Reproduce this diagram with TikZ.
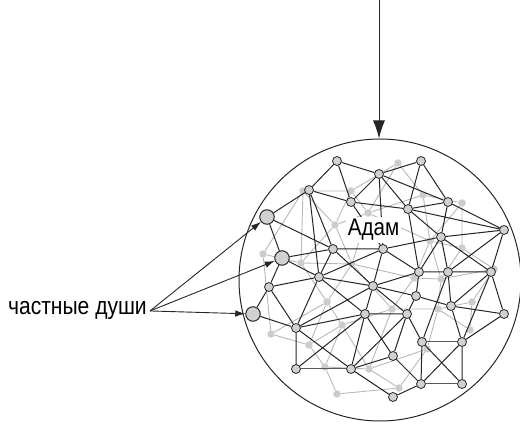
\documentclass[tikz,border=0pt]{standalone}
\usepackage{fontspec}
\setmainfont{Liberation Sans}[FakeStretch=0.86]
\usetikzlibrary{arrows.meta,positioning}
\pgfdeclarelayer{ghost}
\pgfdeclarelayer{mesh}
\pgfsetlayers{ghost,mesh,main}

\begin{document}
\begin{tikzpicture}[
x=1pt, y=-1pt,
knot/.style={circle, draw=black!85, fill=black!18, line width=0.8pt, minimum size=9pt, inner sep=0pt},
soul/.style={knot, line width=1pt, minimum size=14.5pt},
ghost/.style={circle, fill=black!20, minimum size=7.5pt, inner sep=0pt},
link/.style={draw=black!85, line width=1pt},
faint/.style={draw=black!28, line width=0.9pt},
pointer/.style={draw=black!85, line width=0.9pt, -{Latex[length=10pt,width=6.5pt]}},
]
\useasboundingbox (0,0) rectangle (520,427);
%Nodes
\node[knot](n1) at (337,161){};
\node[knot](n2) at (421,161){};
\node[knot](n3) at (379,174){};
\node[knot](n4) at (309,190){};
\node[knot](n5) at (351,202){};
\node[knot](n6) at (408,209){};
\node[knot](n7) at (448,202){};
\node[soul](s1) at (267,217){};
\node[knot](n9) at (504,230){};
\node[knot](n10) at (441,237){};
\node[knot](adam) at (383,249){};
\node[knot](n12) at (333,249){};
\node[soul](s2) at (282,258){};
\node[knot](n14) at (319,277){};
\node[knot](n15) at (419,272){};
\node[knot](n16) at (448,272){};
\node[knot](n17) at (491,272){};
\node[knot](n18) at (269,287){};
\node[knot](n19) at (373,286){};
\node[knot](n20) at (416,296){};
\node[soul](s3) at (253,314){};
\node[knot](n22) at (451,306){};
\node[knot](n23) at (504,314){};
\node[knot](n24) at (365,314){};
\node[knot](n25) at (407,314){};
\node[knot](n26) at (296,328){};
\node[knot](n27) at (422,342){};
\node[knot](n28) at (462,342){};
\node[knot](n29) at (393,356){};
\node[knot](n30) at (296,369){};
\node[knot](n31) at (351,369){};
\node[knot](n32) at (421,384){};
\node[knot](n33) at (462,384){};
\node[knot](n34) at (393,397){};

%Background net
\begin{pgfonlayer}{ghost}
\node[ghost](g1) at (398,163){};
\node[ghost](g2) at (303,191){};
\node[ghost](g3) at (351,191){};
\node[ghost](g4) at (423,195){};
\node[ghost](g5) at (462,203){};
\node[ghost](g6) at (368,213){};
\node[ghost](g7) at (335,225){};
\node[ghost](g8) at (263,254){};
\node[ghost](g9) at (301,263){};
\node[ghost](g10) at (430,241){};
\node[ghost](g11) at (352,264){};
\node[ghost](g12) at (462,248){};
\node[ghost](g13) at (414,278){};
\node[ghost](g14) at (441,279){};
\node[ghost](g15) at (494,269){};
\node[ghost](g16) at (327,302){};
\node[ghost](g17) at (392,309){};
\node[ghost](g18) at (438,309){};
\node[ghost](g19) at (472,302){};
\node[ghost](g20) at (342,325){};
\node[ghost](g21) at (271,334){};
\node[ghost](g22) at (309,345){};
\node[ghost](g23) at (470,330){};
\node[ghost](g24) at (325,367){};
\node[ghost](g25) at (369,369){};
\node[ghost](g26) at (427,349){};
\node[ghost](g27) at (399,388){};
\node[ghost](g28) at (337,394){};
\draw[faint] (g2) -- (g3) (g2) -- (g7) (g2) -- (g8) (g2) -- (g9)
  (g3) -- (g6) (g3) -- (g7) (g1) -- (g4) (g1) -- (g6) (g1) -- (g3)
  (g4) -- (g5) (g4) -- (g10) (g4) -- (g6) (g5) -- (g12) (g5) -- (g10)
  (g6) -- (g7) (g6) -- (g11) (g6) -- (g10) (g7) -- (g9) (g7) -- (g11)
  (g8) -- (g9) (g8) -- (g21) (g9) -- (g11) (g9) -- (g16)
  (g10) -- (g12) (g10) -- (g13) (g10) -- (g14) (g11) -- (g16) (g11) -- (g13)
  (g11) -- (g17) (g12) -- (g14) (g12) -- (g15) (g13) -- (g14) (g13) -- (g17)
  (g14) -- (g15) (g14) -- (g18) (g15) -- (g19) (g16) -- (g20) (g16) -- (g22)
  (g16) -- (g21) (g17) -- (g18) (g17) -- (g20) (g17) -- (g25) (g18) -- (g19)
  (g18) -- (g26) (g19) -- (g23) (g18) -- (g23) (g20) -- (g22) (g20) -- (g25)
  (g21) -- (g22) (g22) -- (g24) (g24) -- (g25) (g24) -- (g28) (g25) -- (g27)
  (g26) -- (g27) (g25) -- (g26) (g28) -- (g27) (g20) -- (g24);
\end{pgfonlayer}

%Edges
\begin{pgfonlayer}{mesh}
\draw[link] (n1) -- (n3) (n1) -- (n4) (n1) -- (n5)
  (n2) -- (n3) (n2) -- (n6) (n2) -- (n7)
  (n3) -- (n5) (n3) -- (n6) (n3) -- (n7) (n3) -- (adam)
  (n4) -- (s1) (n4) -- (n5) (n4) -- (n12) (n4) -- (n14)
  (n5) -- (n6) (n5) -- (adam)
  (n6) -- (n7) (n6) -- (n9) (n6) -- (n10) (n6) -- (n15)
  (n7) -- (n9) (n7) -- (n10)
  (s1) -- (s2) (s1) -- (n12)
  (n9) -- (n10) (n9) -- (n16) (n9) -- (n17)
  (n10) -- (adam) (n10) -- (n15) (n10) -- (n16) (n10) -- (n17)
  (adam) -- (n12) (adam) -- (n14) (adam) -- (n19) (adam) -- (n15)
  (n12) -- (s2) (n12) -- (n14) (n12) -- (n19)
  (s2) -- (n14) (s2) -- (n18)
  (n14) -- (n18) (n14) -- (n19) (n14) -- (n26) (n14) -- (n24)
  (n18) -- (s3) (n18) -- (n26) (s3) -- (n26)
  (n19) -- (n15) (n19) -- (n20) (n19) -- (n24) (n19) -- (n26) (n19) -- (n25)
  (n15) -- (n16) (n16) -- (n17) (n15) -- (n20)
  (n16) -- (n22) (n17) -- (n22) (n17) -- (n23) (n17) -- (n28)
  (n20) -- (n22) (n22) -- (n23) (n22) -- (n28) (n23) -- (n28)
  (n16) -- (n27) (n20) -- (n25)
  (n24) -- (n25) (n24) -- (n26) (n24) -- (n29) (n24) -- (n31) (n24) -- (n30)
  (n25) -- (n31) (n25) -- (n27) (n25) -- (n29)
  (n26) -- (n30) (n26) -- (n31)
  (n29) -- (n31) (n29) -- (n32) (n31) -- (n34) (n34) -- (n32)
  (n27) -- (n32) (n28) -- (n33) (n27) -- (n33) (n28) -- (n32);
\draw[link, draw=black!65] (n30) -- (n31) (n27) -- (n28) (n32) -- (n33);
\end{pgfonlayer}

%Labels and arrows
\node[circle, draw=black!85, line width=1pt, minimum size=282pt, inner sep=0pt](sphere) at (380,280){};
\coordinate (top) at (379,0);
\draw[draw=black!85, line width=1pt, -{Latex[length=18pt,width=12pt]}] (top) -- (top |- sphere.north);
\node[fill=white, inner sep=2pt, anchor=base, font=\fontsize{24}{24}\selectfont](adamtext) at (373.5,236){Адам};
\node[inner sep=0pt, anchor=base east, font=\fontsize{24.5}{24.5}\selectfont](souls) at (147,315){частные души};
\coordinate[right=3pt of souls.east] (fan);
\draw[pointer] (fan) -- (s1);
\draw[pointer] (fan) -- (s2);
\draw[pointer] (fan) -- (s3);
\end{tikzpicture}
\end{document}
